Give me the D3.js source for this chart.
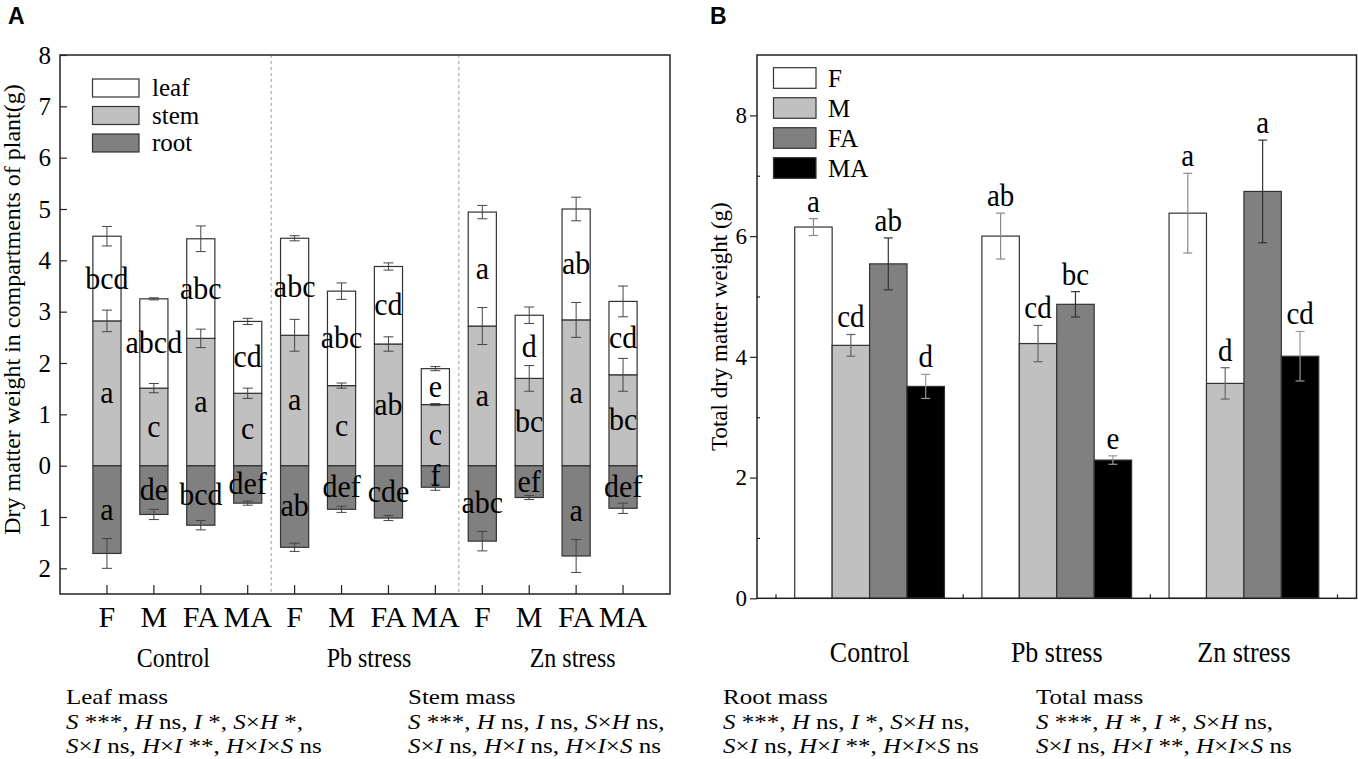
<!DOCTYPE html>
<html>
<head>
<meta charset="utf-8">
<script src="https://cdn.jsdelivr.net/npm/d3@7"></script>
<style>
  html, body { margin: 0; padding: 0; background: #fff; }
  svg { display: block; }
  text { font-family: "Liberation Serif", "Times New Roman", serif; fill: #000; }
  text.panel { font-family: "Liberation Sans", Arial, sans-serif; font-weight: bold; }
</style>
</head>
<body>
<svg id="chart" width="1358" height="759"></svg>
<script>
// ---------------- DATA ----------------
const stresses = ["Control", "Pb stress", "Zn stress"];
const treatments = ["F", "M", "FA", "MA"];
const parts = ["leaf", "stem", "root"];

// Panel A: compartment masses (g), order: Control F,M,FA,MA, Pb F,M,FA,MA, Zn F,M,FA,MA
const stemMass = [2.82, 1.51, 2.48, 1.41, 2.54, 1.56, 2.37, 1.19, 2.72, 1.70, 2.84, 1.77];
const leafMass = [1.65, 1.74, 1.94, 1.40, 1.89, 1.84, 1.51, 0.70, 2.22, 1.23, 2.16, 1.43];
const rootMass = [1.71, 0.95, 1.16, 0.73, 1.59, 0.85, 1.02, 0.42, 1.47, 0.62, 1.76, 0.83];
const leafErr  = [0.19, 0.02, 0.25, 0.06, 0.05, 0.16, 0.07, 0.04, 0.13, 0.16, 0.23, 0.30];
const stemErr  = [0.21, 0.09, 0.18, 0.10, 0.31, 0.05, 0.14, 0.02, 0.36, 0.25, 0.34, 0.32];
const rootErr  = [0.29, 0.10, 0.09, 0.04, 0.08, 0.06, 0.05, 0.06, 0.19, 0.04, 0.32, 0.10];
const leafLetters = ["bcd","abcd","abc","cd","abc","abc","cd","e","a","d","ab","cd"];
const stemLetters = ["a","c","a","c","a","c","ab","c","a","bc","a","bc"];
const rootLetters = ["a","de","bcd","def","ab","def","cde","f","abc","ef","a","def"];
const yTicksA = [-2, -1, 0, 1, 2, 3, 4, 5, 6, 7, 8];

// Panel B: total dry matter (g), per treatment across Control, Pb, Zn
const totalF  = [6.15, 6.00, 6.38];
const totalM  = [4.19, 4.22, 3.56];
const totalFA = [5.54, 4.87, 6.74];
const totalMA = [3.51, 2.29, 4.01];
const errF  = [0.14, 0.38, 0.66];
const errM  = [0.18, 0.30, 0.26];
const errFA = [0.43, 0.21, 0.85];
const errMA = [0.20, 0.07, 0.41];
const letF  = ["a", "ab", "a"];
const letM  = ["cd", "cd", "d"];
const letFA = ["ab", "bc", "a"];
const letMA = ["d", "e", "cd"];
const yTicksB = [0, 2, 4, 6, 8];
const yMinorB = [1, 3, 5, 7];

// Statistics annotations
const annLeaf  = ["Leaf mass",  "S ***, H ns, I *, S×H *,",   "S×I ns, H×I **, H×I×S ns"];
const annStem  = ["Stem mass",  "S ***, H ns, I ns, S×H ns,", "S×I ns, H×I ns, H×I×S ns"];
const annRoot  = ["Root mass",  "S ***, H ns, I *, S×H ns,",  "S×I ns, H×I **, H×I×S ns"];
const annTotal = ["Total mass", "S ***, H *, I *, S×H ns,",   "S×I ns, H×I **, H×I×S ns"];

// ---------------- BUILD ----------------
const svg = d3.select("#chart");
const ink = "#222";

// ===== Panel A =====
const A = { l: 60, r: 670, t: 55, b: 594 };
const nA = stresses.length * treatments.length;
const xA = d3.scaleBand().domain(d3.range(nA)).range([A.l + 23.5, A.r - 23.5])
  .paddingInner(0.4).paddingOuter(0.2);
const yA = d3.scaleLinear().domain([-2.5, 8]).range([A.b, A.t]);

const rowsA = d3.range(nA).map(i => ({
  i,
  stress: stresses[Math.floor(i / treatments.length)],
  trt: treatments[i % treatments.length],
  stem: stemMass[i], leaf: leafMass[i], root: rootMass[i],
  le: leafErr[i], se: stemErr[i], re: rootErr[i],
  ll: leafLetters[i], sl: stemLetters[i], rl: rootLetters[i]
}));

const colA = { leaf: "#ffffff", stem: "#c0c0c0", root: "#808080" };
const gA = svg.append("g");

// dashed separators
const sepA = d3.range(1, stresses.length).map(k => {
  const a = xA(k * treatments.length - 1) + xA.bandwidth();
  const b = xA(k * treatments.length);
  return (a + b) / 2;
});
gA.selectAll("line.sep").data(sepA).join("line")
  .attr("x1", d => d).attr("x2", d => d).attr("y1", A.t).attr("y2", A.b)
  .attr("stroke", "#999").attr("stroke-width", 1).attr("stroke-dasharray", "3,3");

// bars
const segs = [];
rowsA.forEach(r => {
  segs.push({ r, part: "root", y0: -r.root, y1: 0 });
  segs.push({ r, part: "stem", y0: 0, y1: r.stem });
  segs.push({ r, part: "leaf", y0: r.stem, y1: r.stem + r.leaf });
});
gA.selectAll("rect.seg").data(segs).join("rect")
  .attr("x", d => xA(d.r.i)).attr("width", xA.bandwidth())
  .attr("y", d => yA(d.y1)).attr("height", d => yA(d.y0) - yA(d.y1))
  .attr("fill", d => colA[d.part]).attr("stroke", "#333").attr("stroke-width", 1.2);

// error bars
const errsA = [];
rowsA.forEach(r => {
  errsA.push({ r, v: r.stem + r.leaf, e: r.le });
  errsA.push({ r, v: r.stem, e: r.se });
  errsA.push({ r, v: -r.root, e: r.re });
});
const eg = gA.selectAll("g.err").data(errsA).join("g").attr("stroke", "#444").attr("stroke-width", 1);
const cx = d => xA(d.r.i) + xA.bandwidth() / 2;
eg.append("line").attr("x1", cx).attr("x2", cx).attr("y1", d => yA(d.v - d.e)).attr("y2", d => yA(d.v + d.e));
eg.append("line").attr("x1", d => cx(d) - 5).attr("x2", d => cx(d) + 5).attr("y1", d => yA(d.v + d.e)).attr("y2", d => yA(d.v + d.e));
eg.append("line").attr("x1", d => cx(d) - 5).attr("x2", d => cx(d) + 5).attr("y1", d => yA(d.v - d.e)).attr("y2", d => yA(d.v - d.e));

// segment letters
const letsA = [];
rowsA.forEach(r => {
  letsA.push({ r, t: r.ll, y: r.stem + r.leaf / 2 });
  letsA.push({ r, t: r.sl, y: r.stem / 2 });
  letsA.push({ r, t: r.rl, y: -r.root / 2 });
});
gA.selectAll("text.let").data(letsA).join("text")
  .attr("transform", d => `translate(${xA(d.r.i) + xA.bandwidth() / 2},${yA(d.y) + 10}) scale(1,1.08)`)
  .attr("text-anchor", "middle").attr("font-size", 30).text(d => d.t);

// frame
gA.append("rect").attr("x", A.l).attr("y", A.t).attr("width", A.r - A.l).attr("height", A.b - A.t)
  .attr("fill", "none").attr("stroke", ink).attr("stroke-width", 1.5);

// y axis
const yAxA = gA.append("g").attr("transform", `translate(${A.l},0)`)
  .call(d3.axisLeft(yA).tickValues(yTicksA).tickSize(-7).tickPadding(9).tickFormat(d => Math.abs(d)));
yAxA.select(".domain").remove();
yAxA.selectAll("line").attr("stroke", ink).attr("stroke-width", 1.2);
yAxA.selectAll("text").attr("font-size", 25).attr("fill", "#000");

// x axis
const xAxA = gA.append("g").attr("transform", `translate(0,${A.b})`)
  .call(d3.axisBottom(xA).tickSize(-9).tickPadding(12).tickFormat(i => rowsA[i].trt));
xAxA.select(".domain").remove();
xAxA.selectAll("line").attr("stroke", ink).attr("stroke-width", 1.2);
xAxA.selectAll("text").attr("font-size", 30).attr("fill", "#000");

// group labels
const groupOffA = [-4, 4, 20];
gA.selectAll("text.grp").data(stresses).join("text")
  .attr("transform", (d, k) => {
    const c = (xA(k * 4) + xA(k * 4 + 3) + xA.bandwidth()) / 2 + groupOffA[k];
    return `translate(${c},667) scale(1,1.12)`;
  })
  .attr("text-anchor", "middle").attr("font-size", 24).text(d => d);

// y label
gA.append("text").attr("transform", `translate(20,${(A.t + A.b) / 2 - 15}) rotate(-90)`)
  .attr("text-anchor", "middle").attr("font-size", 24)
  .text("Dry matter weight in compartments of plant(g)");

// legend A
const legA = gA.append("g");
parts.forEach((p, k) => {
  const cy = 88 + k * 27.5;
  legA.append("rect").attr("x", 92.5).attr("y", cy - 9).attr("width", 46.5).attr("height", 18)
    .attr("fill", colA[p]).attr("stroke", "#333").attr("stroke-width", 1.2);
  legA.append("text").attr("x", 152).attr("y", cy + 8).attr("font-size", 25).text(p);
});

// panel letter
svg.append("text").attr("class", "panel").attr("x", 8).attr("y", 24).attr("font-size", 23).text("A");

// ===== Panel B =====
const B = { l: 757, r: 1356.5, t: 55, b: 598.3 };
const yB = d3.scaleLinear().domain([0, 9]).range([B.b, B.t]);
const x0 = d3.scaleBand().domain(stresses).range([776, 1337.5]).padding(0);
const x1 = d3.scaleBand().domain(treatments).range([0, x0.bandwidth()]).paddingInner(0).paddingOuter(0.5);

const totals = { F: totalF, M: totalM, FA: totalFA, MA: totalMA };
const errsB = { F: errF, M: errM, FA: errFA, MA: errMA };
const letsB = { F: letF, M: letM, FA: letFA, MA: letMA };
const colB = { F: "#ffffff", M: "#c0c0c0", FA: "#808080", MA: "#000000" };
const errColB = { F: "#8a8a8a", M: "#666666", FA: "#333333", MA: "#999999" };

const rowsB = [];
stresses.forEach((s, si) => treatments.forEach(t => rowsB.push({
  s, t, v: totals[t][si], e: errsB[t][si], l: letsB[t][si]
})));

const gB = svg.append("g");
const bx = d => x0(d.s) + x1(d.t);
gB.selectAll("rect.bar").data(rowsB).join("rect")
  .attr("x", bx).attr("width", x1.bandwidth())
  .attr("y", d => yB(d.v)).attr("height", d => yB(0) - yB(d.v))
  .attr("fill", d => colB[d.t]).attr("stroke", "#333").attr("stroke-width", 1.2);

const bcx = d => bx(d) + x1.bandwidth() / 2;
const egB = gB.selectAll("g.errb").data(rowsB).join("g")
  .attr("stroke", d => errColB[d.t]).attr("stroke-width", 1.2);
egB.append("line").attr("x1", bcx).attr("x2", bcx).attr("y1", d => yB(d.v - d.e)).attr("y2", d => yB(d.v + d.e));
egB.append("line").attr("x1", d => bcx(d) - 4.5).attr("x2", d => bcx(d) + 4.5).attr("y1", d => yB(d.v + d.e)).attr("y2", d => yB(d.v + d.e));
egB.append("line").attr("x1", d => bcx(d) - 4.5).attr("x2", d => bcx(d) + 4.5).attr("y1", d => yB(d.v - d.e)).attr("y2", d => yB(d.v - d.e));

gB.selectAll("text.letb").data(rowsB).join("text")
  .attr("transform", d => `translate(${bcx(d)},${yB(d.v + d.e) - 7}) scale(1,1.08)`)
  .attr("text-anchor", "middle").attr("font-size", 29).text(d => d.l);

// frame
gB.append("rect").attr("x", B.l).attr("y", B.t).attr("width", B.r - B.l).attr("height", B.b - B.t)
  .attr("fill", "none").attr("stroke", ink).attr("stroke-width", 1.5);

// y axis major (outward) + minor (inward)
const yAxB = gB.append("g").attr("transform", `translate(${B.l},0)`)
  .call(d3.axisLeft(yB).tickValues(yTicksB).tickSize(7).tickPadding(3));
yAxB.select(".domain").remove();
yAxB.selectAll("line").attr("stroke", ink).attr("stroke-width", 1.2);
yAxB.selectAll("text").attr("font-size", 23).attr("fill", "#000");
const yMinB = gB.append("g").attr("transform", `translate(${B.l},0)`)
  .call(d3.axisLeft(yB).tickValues(yMinorB).tickSize(-3).tickFormat(""));
yMinB.select(".domain").remove();
yMinB.selectAll("line").attr("stroke", ink).attr("stroke-width", 1.2);

// x ticks at group boundaries (inward)
const bounds = stresses.map(s => x0(s)).concat([x0(stresses[stresses.length - 1]) + x0.bandwidth()]);
gB.selectAll("line.xt").data(bounds).join("line")
  .attr("x1", d => d).attr("x2", d => d).attr("y1", B.b).attr("y2", B.b - 4)
  .attr("stroke", ink).attr("stroke-width", 1.2);

// group labels
gB.selectAll("text.grpb").data(stresses).join("text")
  .attr("transform", d => `translate(${x0(d) + x0.bandwidth() / 2},662) scale(1,1.1)`)
  .attr("text-anchor", "middle").attr("font-size", 26).text(d => d);

// y label
gB.append("text").attr("transform", `translate(727,${(B.t + B.b) / 2}) rotate(-90)`)
  .attr("text-anchor", "middle").attr("font-size", 23).text("Total dry matter weight (g)");

// legend B
const legB = gB.append("g");
treatments.forEach((t, k) => {
  const cy = 78 + k * 30;
  legB.append("rect").attr("x", 773.5).attr("y", cy - 10.3).attr("width", 42.5).attr("height", 20.6)
    .attr("fill", colB[t]).attr("stroke", "#333").attr("stroke-width", 1.2);
  legB.append("text").attr("x", 828).attr("y", cy + 9).attr("font-size", 25).text(t);
});

svg.append("text").attr("class", "panel").attr("x", 710).attr("y", 24).attr("font-size", 23).text("B");

// ===== Annotations =====
function annotate(lines, x) {
  const baseY = [704, 729, 753];
  lines.forEach((ln, k) => {
    const t = svg.append("text")
      .attr("transform", `translate(${x},${baseY[k]}) scale(1.19,1)`)
      .attr("font-size", 21);
    if (k === 0) { t.text(ln); return; }
    // italicise factor symbols S, H, I
    ln.split(/([SHI])/).forEach(part => {
      if (!part) return;
      const sp = t.append("tspan").text(part);
      if (/^[SHI]$/.test(part)) sp.attr("font-style", "italic");
    });
  });
}
annotate(annLeaf, 66);
annotate(annStem, 408);
annotate(annRoot, 723);
annotate(annTotal, 1036);
</script>
</body>
</html>
